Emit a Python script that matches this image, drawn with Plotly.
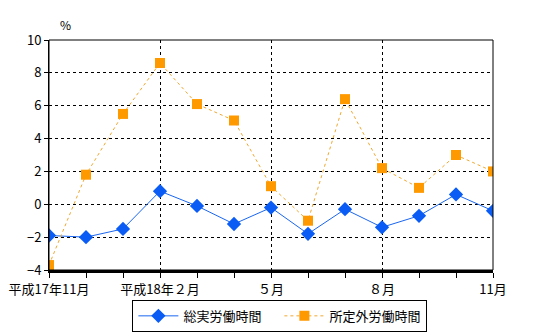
import plotly.graph_objects as go

categories = ["平成17年11月", "12月", "平成18年1月", "平成18年２月", "3月", "4月", "5月",
              "6月", "7月", "８月", "9月", "10月", "11月"]
tick_idx = [0, 3, 6, 9, 12]
tick_text = ["平成17年11月", "平成18年２月", "５月", "８月", "11月"]
total_hours = [-1.9, -2.0, -1.5, 0.8, -0.1, -1.2, -0.2, -1.8, -0.3, -1.4, -0.7, 0.6, -0.4]
overtime_hours = [-3.7, 1.8, 5.5, 8.6, 6.1, 5.1, 1.1, -1.0, 6.4, 2.2, 1.0, 3.0, 2.0]

x = list(range(len(categories)))
font = "Noto Sans CJK JP"

fig = go.Figure()
fig.add_trace(go.Scatter(
    x=x, y=total_hours, name="総実労働時間　", mode="lines+markers",
    line=dict(color="#1a66f0", width=1),
    marker=dict(symbol="diamond", size=11, color="#0a5cf5"),
))
fig.add_trace(go.Scatter(
    x=x, y=overtime_hours, name="所定外労働時間", mode="lines+markers",
    line=dict(color="#f0a830", width=1, dash="dot"),
    marker=dict(symbol="square", size=10, color="#ff9900"),
))

fig.update_layout(
    width=540, height=336,
    margin=dict(l=49, r=47, t=40, b=66, autoexpand=False),
    paper_bgcolor="white", plot_bgcolor="white",
    font=dict(family=font, size=13, color="black"),
    showlegend=True,
    legend=dict(orientation="h", x=0.52, xanchor="center", y=-0.13, yanchor="top",
                bordercolor="black", borderwidth=1, font=dict(size=13),
                itemwidth=40, tracegroupgap=0),
    xaxis=dict(range=[0, 12], tickmode="array", tickvals=tick_idx, ticktext=tick_text,
               showgrid=True, gridcolor="black", griddash="dot", gridwidth=1,
               showline=True, linecolor="black", linewidth=3,
               ticks="outside", ticklen=5, tickcolor="black",
               minor=dict(dtick=1, ticks="outside", ticklen=5, tickcolor="black", showgrid=False),
               zeroline=False, fixedrange=True, automargin=False),
    yaxis=dict(range=[-4, 10], dtick=2, tick0=-4,
               showgrid=True, gridcolor="black", griddash="dot", gridwidth=1,
               showline=True, linecolor="black", linewidth=1,
               ticks="outside", ticklen=4, tickcolor="black",
               zeroline=False, fixedrange=True, automargin=False),
    shapes=[dict(type="rect", xref="paper", yref="paper", x0=0, y0=0, x1=1, y1=1,
                 line=dict(color="black", width=1), layer="above")],
    annotations=[dict(text="%", xref="paper", yref="paper", x=0.02, y=1.02,
                      xanchor="left", yanchor="bottom", showarrow=False,
                      font=dict(size=12))],
)

fig.write_html("out.html")
